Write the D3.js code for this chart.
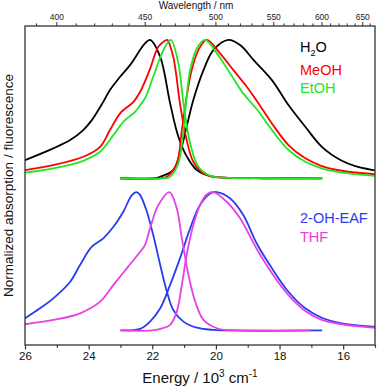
<!DOCTYPE html>
<html>
<head>
<meta charset="utf-8">
<script src="https://cdn.jsdelivr.net/npm/d3@7"></script>
<style>
    body { margin: 0; background: #fff; }
    text { font-family: "Liberation Sans", Arial, sans-serif; }
</style>
</head>
<body>
<div id="chart"></div>
<script>

// Spectra, [energy (10^3 cm-1), normalized intensity]
let h2oAbs = [[26.00,0.131],[25.11,0.216],[24.58,0.276],[24.17,0.348],[23.90,0.42],[23.54,0.552],[23.33,0.637],[23.01,0.733],[22.70,0.817],[22.23,0.974],[22.07,1.0],[21.75,0.877],[21.44,0.543],[21.18,0.30],[20.91,0.155],[20.60,0.059],[20.18,0.016],[19.6,0.003],[18.5,0],[16.66,0]];
let meohAbs = [[26.00,0.059],[25.11,0.095],[24.17,0.155],[23.64,0.227],[23.33,0.348],[23.01,0.469],[22.59,0.552],[22.38,0.625],[22.23,0.70],[22.07,0.79],[21.81,0.95],[21.60,0.993],[21.53,1.0],[21.34,0.877],[21.13,0.541],[20.92,0.276],[20.71,0.119],[20.39,0.035],[20.08,0.011],[19.5,0.002],[18.5,0],[16.66,0]];
let etohAbs = [[26.00,0.04],[25.11,0.071],[24.17,0.126],[23.64,0.191],[23.22,0.312],[22.91,0.408],[22.54,0.48],[22.38,0.528],[22.23,0.577],[21.97,0.733],[21.65,0.926],[21.42,1.0],[21.18,0.83],[21.02,0.541],[20.81,0.252],[20.55,0.083],[20.18,0.018],[19.6,0.003],[18.5,0],[16.66,0]];

let h2oEm = [[23.0,0],[21.9,0],[21.75,0.011],[21.34,0.059],[21.13,0.18],[20.92,0.372],[20.71,0.565],[20.39,0.781],[20.08,0.926],[19.61,1.0],[19.24,0.962],[18.80,0.85],[18.24,0.709],[17.72,0.529],[17.19,0.372],[16.67,0.227],[16.04,0.126],[15.62,0.088],[15.05,0.059],[15.0,0.057]];
let meohEm = [[23.0,0],[21.7,0],[21.54,0.011],[21.23,0.108],[21.07,0.348],[20.92,0.588],[20.76,0.781],[20.55,0.926],[20.29,1.0],[19.87,0.902],[19.45,0.781],[19.03,0.661],[18.72,0.56],[18.24,0.396],[17.72,0.24],[17.19,0.144],[16.67,0.088],[16.04,0.054],[15.05,0.03],[15.0,0.029]];
let etohEm = [[23.0,0],[21.6,0],[21.44,0.011],[21.18,0.108],[21.02,0.348],[20.92,0.588],[20.81,0.781],[20.60,0.938],[20.34,1.0],[19.97,0.902],[19.55,0.757],[19.14,0.613],[18.72,0.50],[18.24,0.348],[17.72,0.204],[17.19,0.119],[16.67,0.071],[16.04,0.04],[15.05,0.018],[15.0,0.017]];

let eafAbs = [[26.0,0.088],[25.53,0.16],[25.11,0.232],[24.58,0.352],[24.27,0.473],[23.90,0.605],[23.54,0.666],[23.22,0.749],[22.91,0.858],[22.64,0.978],[22.49,1.0],[22.38,0.978],[22.17,0.858],[21.97,0.69],[21.75,0.473],[21.54,0.28],[21.34,0.148],[21.02,0.064],[20.60,0.02],[20.08,0.004],[19.5,0],[16.66,0]];
let thfAbs = [[26.0,0.045],[25.11,0.076],[24.27,0.124],[23.64,0.208],[23.22,0.329],[22.80,0.449],[22.38,0.569],[22.23,0.617],[22.07,0.738],[21.81,0.906],[21.46,1.0],[21.23,0.882],[21.07,0.666],[20.86,0.40],[20.65,0.208],[20.39,0.076],[19.97,0.016],[19.45,0],[17.04,0]];
let eafEm = [[23.0,0],[22.6,0.003],[22.38,0.011],[22.07,0.064],[21.75,0.16],[21.44,0.329],[21.13,0.521],[20.81,0.738],[20.50,0.906],[20.18,0.99],[19.97,1.0],[19.55,0.954],[19.14,0.834],[18.72,0.63],[18.24,0.449],[17.72,0.28],[17.19,0.16],[16.67,0.092],[16.04,0.052],[15.05,0.027],[15.0,0.026]];
let thfEm = [[23.0,0],[22.0,0],[21.75,0.011],[21.44,0.04],[21.23,0.136],[21.07,0.329],[20.92,0.545],[20.71,0.762],[20.50,0.906],[20.29,0.983],[20.08,1.0],[19.66,0.93],[19.24,0.81],[18.72,0.59],[18.24,0.413],[17.72,0.256],[17.19,0.141],[16.67,0.076],[16.04,0.045],[15.05,0.02],[15.0,0.019]];

let energyTicks = [26, 25, 24, 23, 22, 21, 20, 19, 18, 17, 16, 15];
let wavelengthMajor = [400, 450, 500, 550, 600, 650];
let wavelengthMinor = d3.range(390, 661, 10);

// series: name, colour, group offset, curves
let series = [
    {name: "H2O", color: "#000000", offset: 1.1, curves: [h2oAbs, h2oEm]},
    {name: "MeOH", color: "#ff0000", offset: 1.1, curves: [meohAbs, meohEm]},
    {name: "EtOH", color: "#22e622", offset: 1.1, curves: [etohAbs, etohEm]},
    {name: "2-OH-EAF", color: "#2a3cf0", offset: 0, curves: [eafAbs, eafEm]},
    {name: "THF", color: "#e640e6", offset: 0, curves: [thfAbs, thfEm]}
];

let width = 377, height = 388;
let margin = {top: 26, right: 2, bottom: 43, left: 25};
let plotW = width - margin.left - margin.right;
let plotH = height - margin.top - margin.bottom;

let svg = d3.select("#chart").append("svg")
    .attr("width", width)
    .attr("height", height);

let g = svg.append("g")
    .attr("transform", "translate(" + margin.left + "," + margin.top + ")");

// Scales
let x = d3.scaleLinear().domain([26, 15]).range([0, plotW]);
let y = d3.scaleLinear().domain([-0.105, 2.2]).range([plotH, 0]);

g.append("clipPath").attr("id", "plot-clip")
    .append("rect")
    .attr("width", plotW)
    .attr("height", plotH);

// Curves
let line = d3.line()
    .x(d => x(d[0]))
    .y(d => y(d[1]))
    .curve(d3.curveCatmullRom.alpha(0.5));

let curveG = g.append("g").attr("clip-path", "url(#plot-clip)");

series.forEach(s => {
    s.curves.forEach(c => {
        curveG.append("path")
            .datum(c.map(d => [d[0], d[1] + s.offset]))
            .attr("d", line)
            .attr("fill", "none")
            .attr("stroke", s.color)
            .attr("stroke-width", 1.8)
            .attr("stroke-linejoin", "round");
    });
});

// Bottom axis (energy)
let xAxis = d3.axisBottom(x)
    .tickValues(energyTicks)
    .tickSize(4)
    .tickPadding(3)
    .tickFormat(d => d % 2 === 0 ? d : "");

let xAxisG = g.append("g")
    .attr("transform", "translate(0," + plotH + ")")
    .call(xAxis);
xAxisG.select(".domain").remove();
xAxisG.selectAll(".tick line")
    .attr("stroke", "#333")
    .attr("stroke-width", 1.2)
    .attr("y2", d => d % 2 === 0 ? 4.5 : 2.8);
xAxisG.selectAll(".tick text")
    .attr("font-size", 11.5)
    .attr("fill", "#111")
    .attr("font-family", "Liberation Sans, Arial, sans-serif");

// Top axis (wavelength, nm -> 10^3 cm-1)
let wlToE = nm => 1e4 / nm;

let topG = g.append("g");
topG.selectAll(".wl-tick")
    .data(wavelengthMinor)
    .enter().append("line")
    .attr("class", "wl-tick")
    .attr("x1", d => x(wlToE(d)))
    .attr("x2", d => x(wlToE(d)))
    .attr("y1", 0)
    .attr("y2", d => wavelengthMajor.includes(d) ? -4 : -2.6)
    .attr("stroke", "#333")
    .attr("stroke-width", 1);

topG.selectAll(".wl-label")
    .data(wavelengthMajor)
    .enter().append("text")
    .attr("class", "wl-label")
    .attr("x", d => x(wlToE(d)))
    .attr("y", -6)
    .attr("text-anchor", "middle")
    .attr("font-size", 8.5)
    .attr("fill", "#222")
    .text(d => d);

// Frame
g.append("rect")
    .attr("width", plotW)
    .attr("height", plotH)
    .attr("fill", "none")
    .attr("stroke", "#333")
    .attr("stroke-width", 1.3);

// Axis titles
let xTitle = svg.append("text")
    .attr("x", 200)
    .attr("y", 383)
    .attr("text-anchor", "middle")
    .attr("font-size", 15)
    .attr("fill", "#111");
xTitle.append("tspan").text("Energy / 10");
xTitle.append("tspan").attr("dy", -6).attr("font-size", 10).text("3");
xTitle.append("tspan").attr("dy", 6).text(" cm");
xTitle.append("tspan").attr("dy", -6).attr("font-size", 10).text("-1");

svg.append("text")
    .attr("x", 196)
    .attr("y", 9)
    .attr("text-anchor", "middle")
    .attr("font-size", 10)
    .attr("fill", "#111")
    .text("Wavelength / nm");

svg.append("text")
    .attr("transform", "translate(13," + (margin.top + plotH / 2) + ") rotate(-90)")
    .attr("text-anchor", "middle")
    .attr("font-size", 13.5)
    .attr("fill", "#111")
    .text("Normalized absorption / fluorescence");

// Legends
let legendPos = [[300, 52], [300, 75], [300, 93], [300, 223], [300, 242]];
series.forEach((s, i) => {
    let t = svg.append("text")
        .attr("x", legendPos[i][0])
        .attr("y", legendPos[i][1])
        .attr("font-size", 14.5)
        .attr("fill", s.color);
    if (s.name === "H2O") {
        t.append("tspan").text("H");
        t.append("tspan").attr("dy", 4).attr("font-size", 9).text("2");
        t.append("tspan").attr("dy", -4).text("O");
    } else {
        t.text(s.name);
    }
});

</script>
</body>
</html>
